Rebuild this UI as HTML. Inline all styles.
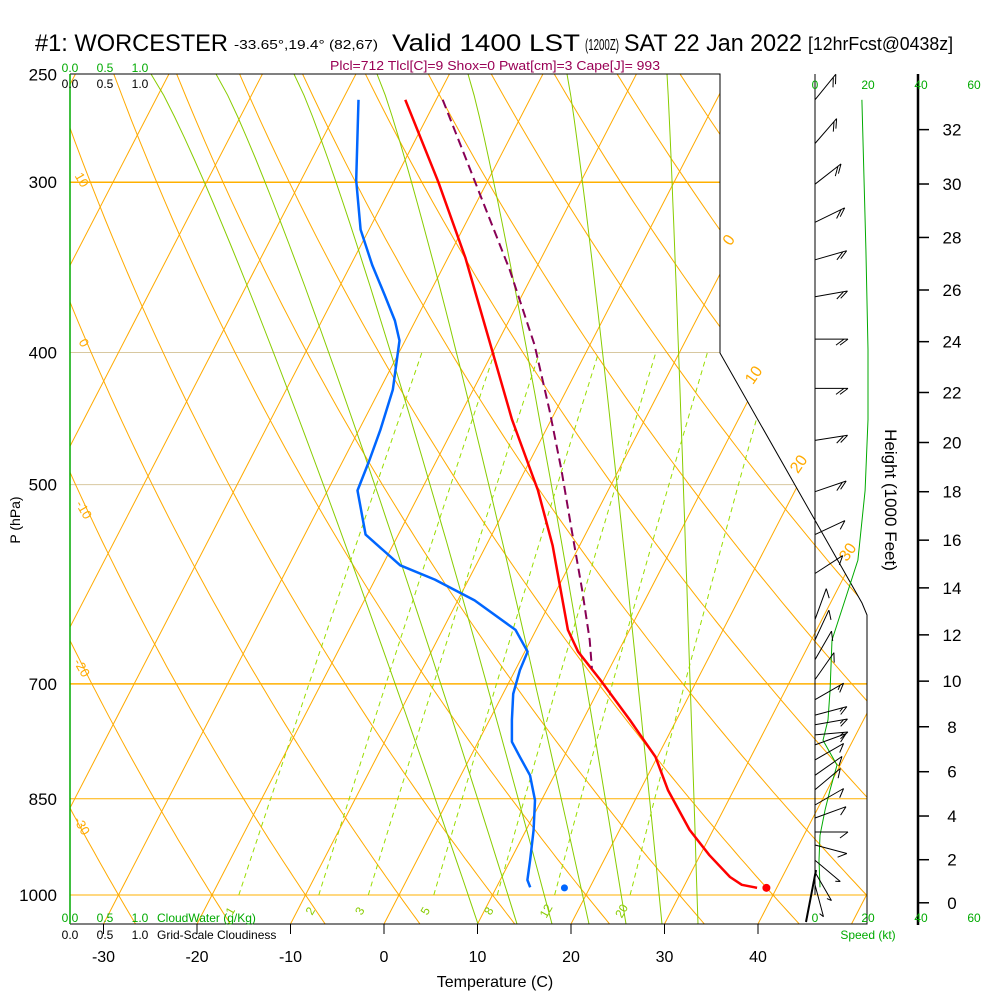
<!DOCTYPE html>
<html><head><meta charset="utf-8">
<style>
html,body{margin:0;padding:0;background:#fff;}
svg{display:block;font-family:"Liberation Sans",sans-serif;}
</style></head>
<body>
<svg id="chart" width="1000" height="1000" viewBox="0 0 1000 1000" xmlns="http://www.w3.org/2000/svg">
<defs>
<clipPath id="plotclip"><polygon points="70,74 720,74 720,353 862,603 867,615 867,924 70,924"/></clipPath>
</defs>
<g fill="#000">
<text x="35" y="51" font-size="24" textLength="193" lengthAdjust="spacingAndGlyphs">#1: WORCESTER</text>
<text x="234" y="49" font-size="13" textLength="144" lengthAdjust="spacingAndGlyphs">-33.65°,19.4° (82,67)</text>
<text x="392" y="51" font-size="24" textLength="188" lengthAdjust="spacingAndGlyphs">Valid 1400 LST</text>
<text x="585" y="50" font-size="16" textLength="34" lengthAdjust="spacingAndGlyphs">(1200Z)</text>
<text x="624" y="51" font-size="24" textLength="178" lengthAdjust="spacingAndGlyphs">SAT 22 Jan 2022</text>
<text x="808" y="50" font-size="18" textLength="145" lengthAdjust="spacingAndGlyphs">[12hrFcst@0438z]</text>
</g>
<text x="330" y="70" font-size="13" fill="#990055" textLength="330" lengthAdjust="spacingAndGlyphs">Plcl=712 Tlcl[C]=9 Shox=0 Pwat[cm]=3 Cape[J]= 993</text>
<g id="grid" clip-path="url(#plotclip)"></g>
<g id="profiles" clip-path="url(#plotclip)"></g>
<g id="frame"></g>
<g id="labels"></g>
<g id="wind"></g>
</svg>
<script>
// ---- data ----
const pressureLevels = [250, 300, 400, 500, 700, 850, 1000];
const tempTicks = [-30, -20, -10, 0, 10, 20, 30, 40];
const heightTicks = [0,2,4,6,8,10,12,14,16,18,20,22,24,26,28,30,32];
const tempP = [261,300,341,392,448,505,554,639,663,695,744,792,838,896,935,970,983,987];
const tempT = [-43.3,-35.2,-28.1,-21.0,-14.2,-7.5,-2.9,3.4,5.7,9.6,15.0,19.8,23.0,27.5,31.0,34.4,36.1,37.6];
const dewP = [261,299,325,345,363,379,392,426,456,480,505,544,573,587,608,639,663,684,712,744,772,792,817,852,896,943,975,987];
const dewT = [-48.3,-44.1,-40.9,-37.7,-34.7,-32.2,-30.6,-28.6,-27.7,-27.2,-26.8,-23.5,-18.1,-13.6,-8.2,-2.2,0.3,0.5,1.1,2.4,3.6,5.3,7.4,9.3,10.8,12.1,12.9,13.6];
const parcelP = [261,304,348,395,441,488,540,597,650,682];
const parcelT = [-39.3,-30.5,-22.7,-15.9,-10.7,-6.1,-1.7,2.7,6.3,8.1];
const sfcTemp = [988, 38.9];
const sfcDew = [988, 17.3];
const mixRatios = [1,2,3,5,8,12,20];
const moistBottomX = [478,517,552,589,626,662,698];
const moistTopX = [151,216,294,377,468,567,667];
const moistExp = 0.88;
const barbP = [261,281,301,321,342,364,391,425,464,506,544,581,628,650,672,695,719,738,750,763,776,796,817,837,859,878,899,919,943,962,983];
const barbDir = [39,41,52,64,74,80,90,90,81,71,65,57,20,25,30,35,60,75,80,85,70,60,55,50,60,70,90,105,130,150,165];
const barbSpd = [20,20,20,20,20,20,20,20,20,20,10,10,10,10,10,10,15,15,15,15,10,10,10,10,10,10,10,10,5,5,5];
const speedP = [261,336,398,448,505,568,608,650,707,744,770,803,837,866,904,943,987];
const speedKt = [17.7,19.2,20,20,18.9,16.2,11.3,6.4,5.7,4.9,3.0,8.3,5.7,3.8,1.9,1.5,1.9];

// ---- axes ----
function yOf(p){ return 895 - 592*Math.log(1000/p); }
function xOf(T,p){ return 384 + 9.35*T + 0.517*(924 - yOf(p)); }
function xSpd(s){ return 815 + 2.65*s; }
function pOfZ(kft){ const z=kft*304.8; return 1013.25*Math.pow(1-6.5e-3*z/288.15,5.2559); }

const NS="http://www.w3.org/2000/svg";
function mk(tag, attrs, parent){ const e=document.createElementNS(NS,tag); for(const k in attrs) e.setAttribute(k,attrs[k]); parent.appendChild(e); return e; }
const grid=document.getElementById('grid'), prof=document.getElementById('profiles'), frame=document.getElementById('frame'), labels=document.getElementById('labels'), wind=document.getElementById('wind');

function pathFrom(ps, ts){ return ps.map((p,i)=>(i?'L':'M')+xOf(ts[i],p).toFixed(1)+','+yOf(p).toFixed(1)).join(''); }

pressureLevels.forEach(p=>{
  if(p===250) return;
  const strong = (p===300||p===700||p===1000||p===850);
  const l=mk('line',{x1:70,x2:870,y1:yOf(p),y2:yOf(p),stroke:strong?'#ffb000':'#d8c8a0','stroke-width':(p===300||p===700)?1.5:1},grid);
  
  
});
for(let T=-120;T<=50;T+=10){
  const l=mk('line',{x1:xOf(T,1060),y1:yOf(1060),x2:xOf(T,240),y2:yOf(240),stroke:'#ffaa00','stroke-width':1},grid);
  
  
}
for(let th=-40;th<=220;th+=10){
  let d='';
  for(let p=1060;p>=240;p-=10){ const T=(th+273.15)*Math.pow(p/1000,0.2857)-273.15; d+=(p===1060?'M':'L')+xOf(T,p).toFixed(1)+','+yOf(p).toFixed(1); }
  const l=mk('path',{d:d,fill:'none',stroke:'#ffaa00','stroke-width':1},grid);
  
  
}
moistBottomX.forEach((bx,i)=>{
  const tx=moistTopX[i];
  let d='';
  for(let k=0;k<=40;k++){ const t=k/40; const y=74+850*t; const x=tx+(bx-tx)*Math.pow(t,moistExp); d+=(k?'L':'M')+x.toFixed(1)+','+y.toFixed(1); }
  const l=mk('path',{d:d,fill:'none',stroke:'#88cc00','stroke-width':1},grid);
  
  
});
mixRatios.forEach(w=>{
  let d='';
  for(let p=1000;p>=400;p-=10){ const e=w*p/(622+w); const a=Math.log(e/6.112); const Td=243.5*a/(17.67-a); d+=(p===1000?'M':'L')+xOf(Td,p).toFixed(1)+','+yOf(p).toFixed(1); }
  const l=mk('path',{d:d,fill:'none',stroke:'#99dd00','stroke-width':1,'stroke-dasharray':'5,4'},grid);
  
  
  const e=w*1000/(622+w), a=Math.log(e/6.112), Td=243.5*a/(17.67-a);
  const t=mk('text',{x:xOf(Td,1000)-5,y:913,'font-size':12,fill:'#88cc00',transform:'rotate(-60 '+(xOf(Td,1000)-5)+' 913)','text-anchor':'middle'},labels);
  t.textContent=String(w);
  
  
});
let e1=mk('path',{d:pathFrom(tempP,tempT)+'L'+xOf(sfcTemp[1]-1,sfcTemp[0])+','+yOf(sfcTemp[0]),fill:'none',stroke:'#ff0000','stroke-width':2.5,'stroke-linejoin':'round'},prof);


let e2=mk('path',{d:pathFrom(dewP,dewT),fill:'none',stroke:'#0066ff','stroke-width':2.5,'stroke-linejoin':'round'},prof);


let e3=mk('path',{d:pathFrom(parcelP,parcelT),fill:'none',stroke:'#880055','stroke-width':2,'stroke-dasharray':'9,5'},prof);


let e4=mk('circle',{cx:xOf(sfcTemp[1],sfcTemp[0]),cy:yOf(sfcTemp[0]),r:4,fill:'#ff0000'},prof);


let e5=mk('circle',{cx:xOf(sfcDew[1],sfcDew[0]),cy:yOf(sfcDew[0]),r:3.5,fill:'#0066ff'},prof);



let f1=mk('polyline',{points:'70,74 720,74 720,353 862,603 867,615 867,924 70,924',fill:'none',stroke:'#000','stroke-width':1},frame);


let f2=mk('line',{x1:70,y1:74,x2:70,y2:924,stroke:'#00aa00','stroke-width':1.5},frame);



pressureLevels.forEach(p=>{
  const t=mk('text',{x:57,y:yOf(p)+6,'font-size':17,'text-anchor':'end',fill:'#000'},labels);
  t.textContent=String(p);
  
  
});
let pl=mk('text',{x:0,y:0,'font-size':14,'text-anchor':'middle',transform:'translate(20 520) rotate(-90)'},labels);
pl.textContent='P (hPa)';


tempTicks.forEach(T=>{
  const x=384+9.35*T;
  const l=mk('line',{x1:x,x2:x,y1:924,y2:934,stroke:'#000'},labels);
  
  
  const t=mk('text',{x:x,y:962,'font-size':16,'text-anchor':'middle'},labels);
  t.textContent=String(T);
  
  
});
let xt=mk('text',{x:495,y:987,'font-size':16,'text-anchor':'middle'},labels);
xt.textContent='Temperature (C)';


[[0,733,243],[10,758,378],[20,803,467],[30,852,555]].forEach(a=>{
  const t=mk('text',{x:a[1],y:a[2],'font-size':16,fill:'#ffaa00','text-anchor':'middle',transform:'rotate(-55 '+a[1]+' '+a[2]+')'},labels);
  t.textContent=String(a[0]);
  
  
});
[[10,78,182],[0,80,345],[-10,80,512],[-20,78,670],[-30,78,828]].forEach(a=>{
  const t=mk('text',{x:a[1],y:a[2],'font-size':13,fill:'#ffaa00','text-anchor':'middle',transform:'rotate(60 '+a[1]+' '+a[2]+')'},labels);
  t.textContent=String(a[0]);
  
  
});
[['#00aa00',72],['#000',88],['#00aa00',922],['#000',939]].forEach((c,i)=>{
  ['0.0','0.5','1.0'].forEach((s,j)=>{
    const t=mk('text',{x:70+35*j,y:c[1],'font-size':12,fill:c[0],'text-anchor':'middle'},labels);
    t.textContent=s;
    
    
  });
});
let cw=mk('text',{x:157,y:922,'font-size':12,fill:'#00aa00'},labels);
cw.textContent='CloudWater (g/Kg)';


let gc=mk('text',{x:157,y:939,'font-size':12,fill:'#000'},labels);
gc.textContent='Grid-Scale Cloudiness';



let ha=mk('line',{x1:918,y1:74,x2:918,y2:925,stroke:'#000','stroke-width':2.5},wind);


heightTicks.forEach(h=>{
  const y=yOf(pOfZ(h));
  const l=mk('line',{x1:918,x2:929,y1:y,y2:y,stroke:'#000','stroke-width':1.5},wind);
  
  
  const t=mk('text',{x:952,y:y+6,'font-size':17,'text-anchor':'middle'},wind);
  t.textContent=String(h);
  
  
});
let ht=mk('text',{x:0,y:0,'font-size':17,'text-anchor':'middle',transform:'translate(885 500) rotate(90)'},wind);
ht.textContent='Height (1000 Feet)';


let sa=mk('line',{x1:815,y1:74,x2:815,y2:895,stroke:'#000','stroke-width':1},wind);


[0,20,40,60].forEach(s=>{
  [89,922].forEach(y=>{
    const t=mk('text',{x:xSpd(s),y:y,'font-size':12,fill:'#00aa00','text-anchor':'middle'},wind);
    t.textContent=String(s);
    
    
  });
});
let sk=mk('text',{x:868,y:939,'font-size':12,fill:'#00aa00','text-anchor':'middle'},wind);
sk.textContent='Speed (kt)';


let sl=mk('path',{d:speedP.map((p,i)=>(i?'L':'M')+xSpd(speedKt[i]).toFixed(1)+','+yOf(p).toFixed(1)).join(''),fill:'none',stroke:'#00aa00','stroke-width':1},wind);


barbP.forEach((p,i)=>{
  const y0=yOf(p), a=barbDir[i]*Math.PI/180, L=33;
  const ux=Math.sin(a), uy=-Math.cos(a);
  const ex=815+ux*L, ey=y0+uy*L;
  let d='M815,'+y0.toFixed(1)+'L'+ex.toFixed(1)+','+ey.toFixed(1);
  const fa=a+Math.PI/180*143; const fx=Math.sin(fa), fy=-Math.cos(fa);
  let s=barbSpd[i], k=0;
  while(s>=10){ const bx=ex-ux*4*k, by=ey-uy*4*k; d+='M'+bx.toFixed(1)+','+by.toFixed(1)+'l'+(fx*10).toFixed(1)+','+(fy*10).toFixed(1); s-=10; k++; }
  if(s>=5){ const bx=ex-ux*4*k, by=ey-uy*4*k; d+='M'+bx.toFixed(1)+','+by.toFixed(1)+'l'+(fx*5).toFixed(1)+','+(fy*5).toFixed(1); }
  const b=mk('path',{d:d,fill:'none',stroke:'#000','stroke-width':1},wind);
  
  
});
let sfl=mk('line',{x1:816,y1:870,x2:806,y2:922,stroke:'#000','stroke-width':2},wind);


</script>
</body></html>
